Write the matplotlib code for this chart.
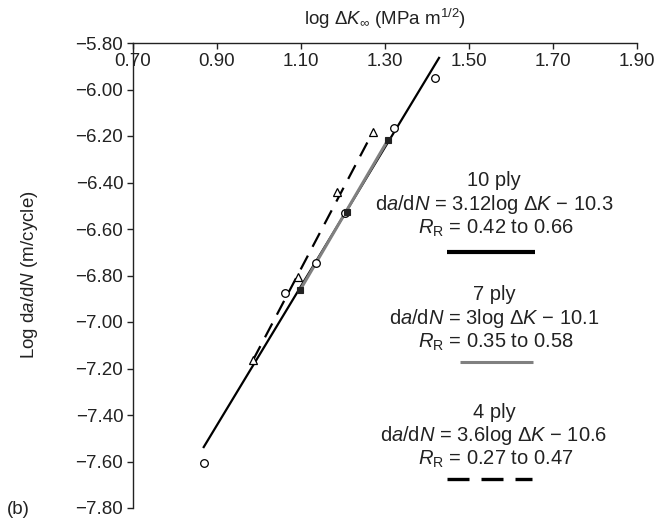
import matplotlib
matplotlib.use("Agg")
import matplotlib.pyplot as plt
from matplotlib.lines import Line2D

plt.rcParams['font.family'] = ['Liberation Sans', 'DejaVu Sans']
plt.rcParams['mathtext.fontset'] = 'custom'
plt.rcParams['mathtext.rm'] = 'Liberation Sans'
plt.rcParams['mathtext.it'] = 'Liberation Sans:italic'
plt.rcParams['mathtext.sf'] = 'Liberation Sans'

# ---- data ----
circles_x = [0.869, 1.062, 1.136, 1.205, 1.321, 1.419]
circles_y = [-7.606, -6.875, -6.746, -6.531, -6.166, -5.950]
squares_x = [1.098, 1.210, 1.307]
squares_y = [-6.862, -6.527, -6.217]
triangles_x = [0.986, 1.093, 1.186, 1.271]
triangles_y = [-7.163, -6.806, -6.441, -6.183]

ply10_x = [0.867, 1.430]
ply10_y = [-7.542, -5.860]
ply7_x = [1.098, 1.307]
ply7_y = [-6.862, -6.217]
ply4_x = [0.986, 1.271]
ply4_y = [-7.163, -6.183]

xticks = [0.70, 0.90, 1.10, 1.30, 1.50, 1.70, 1.90]
yticks = [-5.80, -6.00, -6.20, -6.40, -6.60, -6.80, -7.00, -7.20, -7.40, -7.60, -7.80]

W, H = 658, 521
fig = plt.figure(figsize=(W / 100, H / 100), dpi=100)
ax = fig.add_axes([133 / W, 1 - 508 / H, (637 - 133) / W, (508 - 43) / H])

ax.set_xlim(0.70, 1.90)
ax.set_ylim(-7.80, -5.80)

TXT = '#222222'

# lines
ax.plot(ply10_x, ply10_y, color='black', lw=1.6, zorder=2, solid_capstyle='butt')
ax.plot(ply7_x, ply7_y, color='#808080', lw=2.2, zorder=3, solid_capstyle='butt')
ax.plot(ply4_x, ply4_y, color='black', lw=1.6, ls=(0, (7, 4.5)), zorder=2)

# markers
ax.plot(circles_x, circles_y, ls='none', marker='o', ms=5.5, mfc='white', mec='black', mew=0.9, zorder=4)
ax.plot(triangles_x, triangles_y, ls='none', marker='^', ms=5.5, mfc='white', mec='black', mew=0.9, zorder=4)
ax.plot(squares_x, squares_y, ls='none', marker='s', ms=5, mfc='#222222', mec='#222222', mew=0.8, zorder=5)

# axes styling: x axis line at top, ticks pointing down, labels below
for s in ['top', 'right']:
    ax.spines[s].set_visible(False)
ax.spines['bottom'].set_position(('data', -5.80))
for s in ['bottom', 'left']:
    ax.spines[s].set_linewidth(1.0)
    ax.spines[s].set_color(TXT)

ax.set_xticks(xticks)
ax.set_xticklabels([f'{v:.2f}' for v in xticks])
ax.set_yticks(yticks)
ax.set_yticklabels([f'\u2212{abs(v):.2f}' for v in yticks])
ax.tick_params(axis='x', direction='out', length=4.5, width=1.0, pad=2.5, labelsize=13.5, colors=TXT)
ax.tick_params(axis='y', direction='out', length=4, width=1.0, pad=3, labelsize=13.5, colors=TXT)

def fx(px):
    return px / W

def fy(py):
    return 1 - py / H

fig.text(fx(385), fy(19), r'log $\Delta K_{\infty}$ (MPa m$^{1/2}$)', ha='center', va='center', fontsize=13.5, color=TXT)
fig.text(fx(30), fy(275), r'Log d$a$/d$N$ (m/cycle)', ha='center', va='center', rotation=90, fontsize=13.5, color=TXT)
fig.text(fx(18), fy(510), '(b)', ha='center', va='center', fontsize=13.5, color=TXT)

cx = 494
FS = 14.5
groups = [
    ('10 ply', r'd$a$/d$N$ = 3.12log $\Delta K$ $-$ 10.3', r'$R_{\mathrm{R}}$ = 0.42 to 0.66', 181),
    ('7 ply', r'd$a$/d$N$ = 3log $\Delta K$ $-$ 10.1', r'$R_{\mathrm{R}}$ = 0.35 to 0.58', 295),
    ('4 ply', r'd$a$/d$N$ = 3.6log $\Delta K$ $-$ 10.6', r'$R_{\mathrm{R}}$ = 0.27 to 0.47', 412),
]
for title, eq, rr, y0 in groups:
    fig.text(fx(cx), fy(y0), title, ha='center', va='center', fontsize=FS, color=TXT)
    fig.text(fx(cx), fy(y0 + 23.5), eq, ha='center', va='center', fontsize=FS, color=TXT)
    fig.text(fx(cx + 2), fy(y0 + 47), rr, ha='center', va='center', fontsize=FS, color=TXT)

# legend sample lines
fig.add_artist(Line2D([fx(447), fx(535)], [fy(252), fy(252)], color='black', lw=3.0, solid_capstyle='butt'))
fig.add_artist(Line2D([fx(460), fx(533)], [fy(362), fy(362)], color='#808080', lw=2.2, solid_capstyle='butt'))
fig.add_artist(Line2D([fx(447), fx(532)], [fy(479), fy(479)], color='black', lw=2.4, ls=(0, (6.6, 3.6)), dash_capstyle='butt'))

fig.savefig('out.png', dpi=100)
